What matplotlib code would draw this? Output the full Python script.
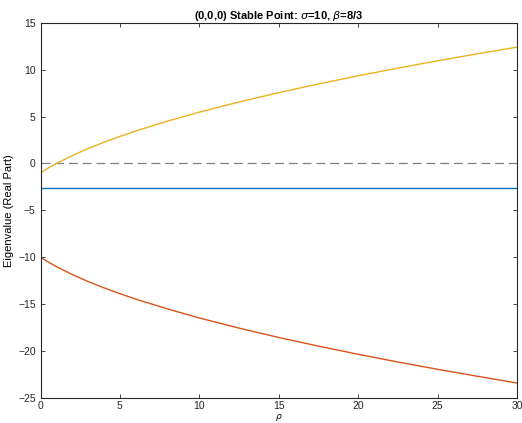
import numpy as np
import matplotlib
matplotlib.use("Agg")
import matplotlib.pyplot as plt

plt.rcParams['font.family'] = ['Liberation Sans', 'DejaVu Sans']
plt.rcParams['mathtext.fontset'] = 'dejavusans'

# eigenvalues
rho = [0, 0.5, 1, 2, 3, 4, 5, 6, 8, 10, 12.5, 15, 17.5, 20, 22.5, 25, 27.5, 30]
lam_upper = [-1.00, -0.48, 0.00, 0.84, 1.59, 2.26, 2.88, 3.46, 4.51, 5.47,
             6.55, 7.55, 8.47, 9.34, 10.16, 10.94, 11.68, 12.40]
lam_lower = [-10.00, -10.52, -11.00, -11.84, -12.59, -13.26, -13.88, -14.46,
             -15.51, -16.47, -17.55, -18.55, -19.47, -20.34, -21.16, -21.94,
             -22.68, -23.40]
lam_beta = -8 / 3

fig = plt.figure(figsize=(5.22, 4.23), dpi=100)
ax = fig.add_axes([0.0776, 0.0591, 0.9128, 0.8872])

ax.axhline(0, color='#7f7f7f', linestyle=(0, (7, 4)), linewidth=0.9)
ax.plot([rho[0], rho[-1]], [lam_beta, lam_beta], color='#0072BD', linewidth=1.0)
ax.plot(rho, lam_lower, color='#D95319', linewidth=1.0)
ax.plot(rho, lam_upper, color='#EDB120', linewidth=1.0)

ax.set_xlim(0, 30)
ax.set_ylim(-25, 15)
ax.set_xticks(np.arange(0, 31, 5))
ax.set_yticks(np.arange(-25, 16, 5))
ax.tick_params(direction='in', top=True, right=True, labelsize=7.5,
               length=3, width=0.6, colors='#262626')
ax.tick_params(axis='x', pad=2)
for s in ax.spines.values():
    s.set_linewidth(0.8)
    s.set_color('#262626')

ax.set_title(r'(0,0,0) Stable Point: $\sigma$=10, $\beta$=8/3',
             fontsize=8, fontweight='bold', pad=3)
ax.set_xlabel(r'$\rho$', fontsize=6.5, va='center')
ax.xaxis.set_label_coords(0.5, -0.052)
ax.set_ylabel('Eigenvalue (Real Part)', fontsize=8, va='center')
ax.yaxis.set_label_coords(-0.067, 0.5)

fig.savefig("out.png", dpi=100)
